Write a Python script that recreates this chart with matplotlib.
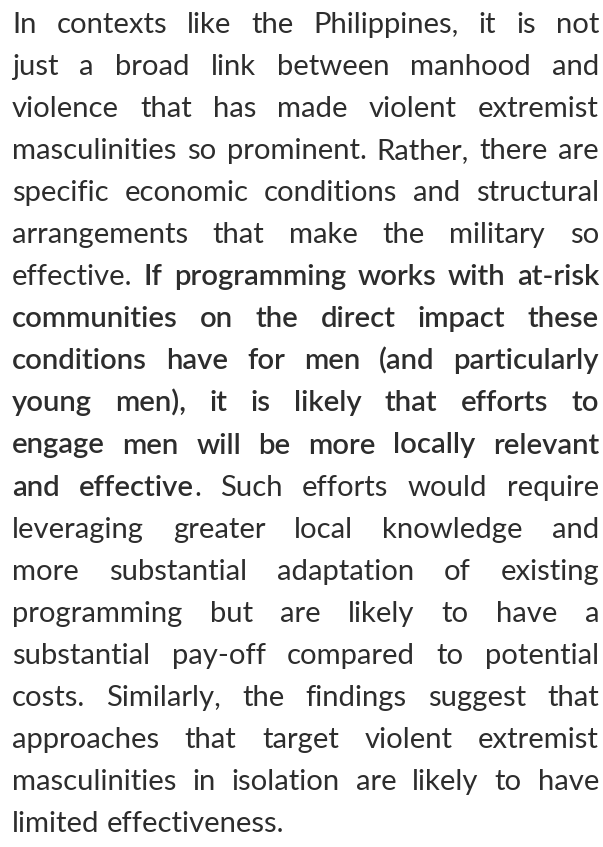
import matplotlib
matplotlib.use("Agg")  # headless
import matplotlib.pyplot as plt

# paragraph text, one entry per printed line; ** toggles the bold run
lines = [
    "In contexts like the Philippines, it is not",
    "just a broad link between manhood and",
    "violence that has made violent extremist",
    "masculinities so prominent. Rather, there are",
    "specific economic conditions and structural",
    "arrangements that make the military so",
    "effective. **If programming works with at-risk",
    "communities on the direct impact these",
    "conditions have for men (and particularly",
    "young men), it is likely that efforts to",
    "engage men will be more locally relevant",
    "and effective**. Such efforts would require",
    "leveraging greater local knowledge and",
    "more substantial adaptation of existing",
    "programming but are likely to have a",
    "substantial pay-off compared to potential",
    "costs. Similarly, the findings suggest that",
    "approaches that target violent extremist",
    "masculinities in isolation are likely to have",
    "limited effectiveness.",
]

text_color = "#2d2d2d"
font_family = ["Lato", "DejaVu Sans"]

W, H = 603, 847
left_px, right_px = 12, 599
first_base, line_gap = 33, 42.05

fig = plt.figure(figsize=(W / 100, H / 100), dpi=100)
renderer = fig.canvas.get_renderer()


def text_width(s, size, bold):
    t = fig.text(0, 0, s, fontsize=size, family=font_family,
                 weight="semibold" if bold else "normal")
    w = t.get_window_extent(renderer).width
    t.remove()
    return w


# size the font so the last (unjustified) line has the same length as in the picture
base_size = 20
w_last = text_width(lines[-1], base_size, False)
fsize = base_size * 273.0 / w_last

# split into words made of (text, bold) pieces
parsed = []
bold = False
for line in lines:
    words = []
    for word in line.split(" "):
        parts = word.split("**")
        segs = []
        for i, p in enumerate(parts):
            if i > 0:
                bold = not bold
            if p:
                segs.append((p, bold))
        words.append(segs)
    parsed.append(words)

for li, words in enumerate(parsed):
    widths = []
    for segs in words:
        widths.append([text_width(s, fsize, b) for s, b in segs])
    total = sum(sum(w) for w in widths)
    if li < len(parsed) - 1 and len(words) > 1:
        gap = (right_px - left_px - total) / (len(words) - 1)
    else:
        gap = text_width("a a", fsize, False) - 2 * text_width("a", fsize, False)
    y = 1 - (first_base + li * line_gap) / H
    x = left_px
    for segs, ws in zip(words, widths):
        for (s, b), w in zip(segs, ws):
            fig.text(x / W, y, s, fontsize=fsize, family=font_family,
                     weight="semibold" if b else "normal",
                     color=text_color, va="baseline", ha="left")
            x += w
        x += gap

fig.savefig("out.png", dpi=100, facecolor="white")
